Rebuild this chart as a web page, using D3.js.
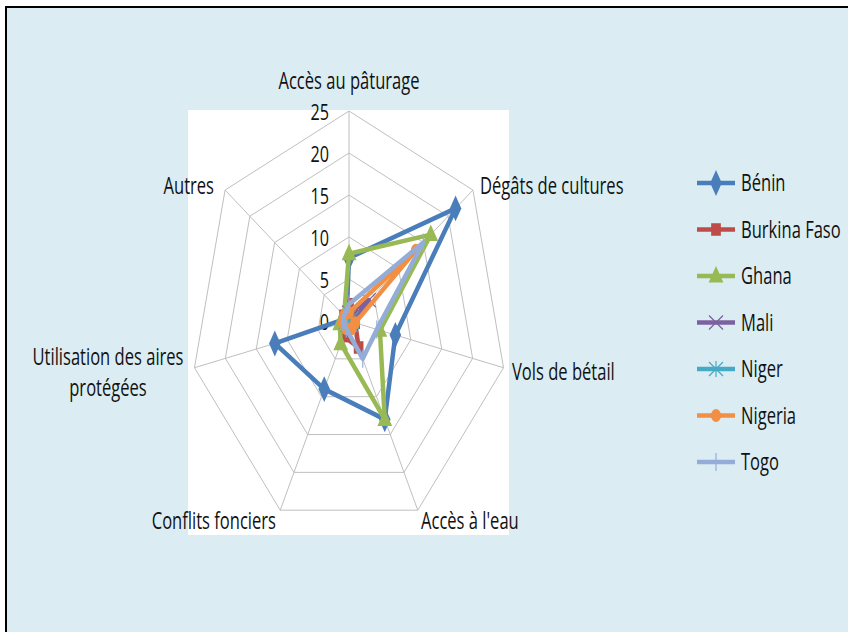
<!DOCTYPE html>
<html>
<head>
<meta charset="utf-8">
<script src="https://cdn.jsdelivr.net/npm/d3@7"></script>
<style>
  body { margin: 0; background: #fff; }
  svg { display: block; }
  text { font-family: "Open Sans", "Noto Sans", sans-serif; fill: #111; }
</style>
</head>
<body>
<svg id="chart" width="848" height="632"></svg>
<script>
const axesLabels = ["Accès au pâturage", "Dégâts de cultures", "Vols de bétail", "Accès à l'eau",
  "Conflits fonciers", "Utilisation des aires protégées", "Autres"];
const tickValues = [0, 5, 10, 15, 20, 25];
const countries = ["Bénin", "Burkina Faso", "Ghana", "Mali", "Niger", "Nigeria", "Togo"];
const benin = [7.5, 21.5, 7.5, 13, 9, 12, 0.5];
const burkina = [2, 1, 1, 3.5, 2, 1, 1];
const ghana = [8, 16.5, 5, 13, 3, 1.5, 1];
const mali = [1, 4, 0.5, 0.5, 0, 0, 0];
const niger = [0.5, 0.5, 0.5, 0.5, 0.5, 0.5, 0.5];
const nigeria = [1, 13.5, 1, 1, 1, 1, 1];
const togo = [2, 15, 4.5, 5, 1, 1, 1];
const seriesValues = [benin, burkina, ghana, mali, niger, nigeria, togo];
const seriesColors = ["#4A7EBB", "#BE4B48", "#98B954", "#7D60A0", "#46AAC5", "#F28F43", "#93ADD8"];
const markerTypes = ["diamond", "square", "triangle", "cross", "star", "circle", "plus"];

const svg = d3.select("#chart");

// frame
svg.append("rect").attr("x", 6).attr("y", 7).attr("width", 850).attr("height", 640)
  .attr("fill", "#DBEDF3").attr("stroke", "#000").attr("stroke-width", 2);

// plot area
svg.append("rect").attr("x", 188).attr("y", 110).attr("width", 321).attr("height", 425).attr("fill", "#fff");

const cx = 349, cy = 321;
const rx = d3.scaleLinear().domain([0, 25]).range([0, 158.5]);
const ry = d3.scaleLinear().domain([0, 25]).range([0, 210]);
const angle = d3.scalePoint().domain(d3.range(axesLabels.length)).range([0, 2 * Math.PI * 6 / 7]);

const px = (i, v) => cx + rx(v) * Math.sin(angle(i));
const py = (i, v) => cy - ry(v) * Math.cos(angle(i));

// condensed text (the picture is squeezed horizontally)
const squeeze = 0.72;
function label(g, x, y, str, anchor, size = 23) {
  return g.append("text")
    .attr("transform", `translate(${x},${y}) scale(${squeeze},1)`)
    .attr("text-anchor", anchor).attr("font-size", size).text(str);
}

const grid = svg.append("g");
tickValues.filter(t => t > 0).forEach(t => {
  grid.append("path")
    .attr("d", d3.line()(axesLabels.map((_, i) => [px(i, t), py(i, t)])) + "Z")
    .attr("fill", "none").attr("stroke", "#BFBFBF").attr("stroke-width", 1);
});
axesLabels.forEach((_, i) => {
  grid.append("line")
    .attr("x1", cx).attr("y1", cy).attr("x2", px(i, 25)).attr("y2", py(i, 25))
    .attr("stroke", "#BFBFBF").attr("stroke-width", 1);
});

// tick labels
const ticks = svg.append("g");
tickValues.forEach(d => label(ticks, cx - 20, cy - ry(d) + 8.5, d, "end", 22.5));

// axis labels
const labelPos = [
  { x: 349, y: 89, anchor: "middle", lines: ["Accès au pâturage"] },
  { x: 480, y: 194, anchor: "start", lines: ["Dégâts de cultures"] },
  { x: 512, y: 380, anchor: "start", lines: ["Vols de bétail"] },
  { x: 421, y: 529, anchor: "start", lines: ["Accès à l'eau"] },
  { x: 276, y: 529, anchor: "end", lines: ["Conflits fonciers"] },
  { x: 108, y: 365, anchor: "middle", lines: ["Utilisation des aires", "protégées"] },
  { x: 214, y: 194, anchor: "end", lines: ["Autres"] }
];
const labels = svg.append("g");
labelPos.forEach(p => p.lines.forEach((l, k) => label(labels, p.x, p.y + k * 31, l, p.anchor)));

const symbolFor = m => ({
  diamond: d3.symbolDiamond, square: d3.symbolSquare, triangle: d3.symbolTriangle,
  circle: d3.symbolCircle
})[m];

function drawMarker(g, m, x, y, color) {
  if (m === "cross" || m === "star" || m === "plus") {
    const s = 7;
    const segs = m === "cross" ? [[-s, -s, s, s], [-s, s, s, -s]]
      : m === "plus" ? [[0, -s - 2, 0, s + 2]]
      : [[-s, -s, s, s], [-s, s, s, -s], [0, -s - 1, 0, s + 1]];
    segs.forEach(q => g.append("line")
      .attr("x1", x + q[0]).attr("y1", y + q[1]).attr("x2", x + q[2]).attr("y2", y + q[3])
      .attr("stroke", color).attr("stroke-width", 1.2));
    return;
  }
  const size = m === "diamond" ? 160 : m === "square" ? 130 : m === "triangle" ? 130 : 110;
  g.append("path").attr("d", d3.symbol().type(symbolFor(m)).size(size)())
    .attr("transform", `translate(${x},${y + (m === "triangle" ? 1 : 0)}) scale(0.85,1.1)`)
    .attr("fill", color);
}

// series
const lineGen = d3.line();
seriesValues.forEach((vals, s) => {
  const g = svg.append("g");
  const pts = vals.map((v, i) => [px(i, v), py(i, v)]);
  g.append("path").attr("d", lineGen(pts) + "Z")
    .attr("fill", "none").attr("stroke", seriesColors[s]).attr("stroke-width", 4.5)
    .attr("stroke-linejoin", "round");
  pts.forEach(p => drawMarker(g, markerTypes[s], p[0], p[1], seriesColors[s]));
});

// legend
const legend = svg.append("g");
countries.forEach((c, i) => {
  const y = 183 + i * 46.5;
  legend.append("line").attr("x1", 697).attr("x2", 735).attr("y1", y).attr("y2", y)
    .attr("stroke", seriesColors[i]).attr("stroke-width", 4.5);
  drawMarker(legend, markerTypes[i], 716, y, seriesColors[i]);
  label(legend, 741, y + 8, c, "start");
});
</script>
</body>
</html>
